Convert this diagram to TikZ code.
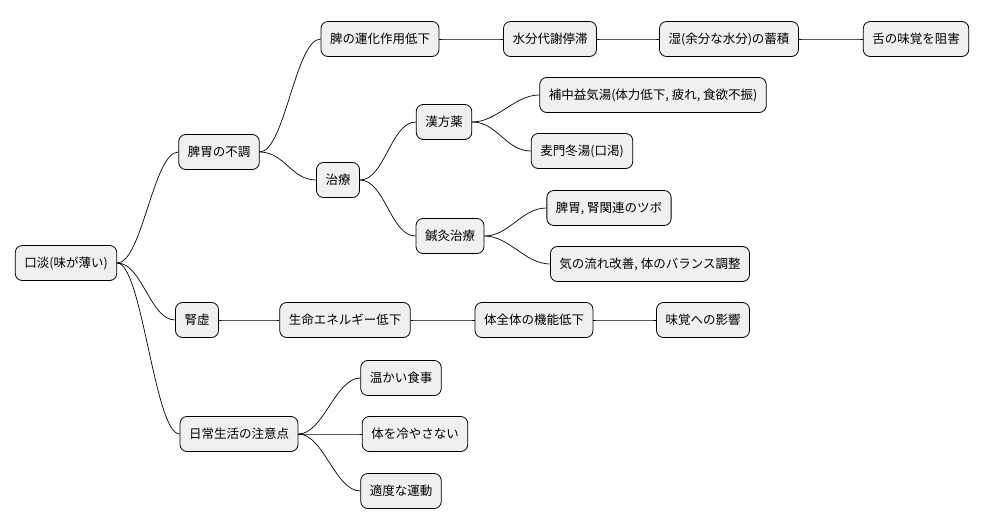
\documentclass[tikz,border=0pt]{standalone}
\usepackage{fontspec}
\setmainfont{Noto Sans CJK JP}
\begin{document}
\begin{tikzpicture}[x=1pt,y=-1pt,
  box/.style={draw=black,line width=0.8pt,fill=black!6,rounded corners=7pt,minimum height=35pt,inner xsep=9pt,font=\fontsize{12.5}{14}\selectfont},
  link/.style={draw=black,line width=0.7pt}]
\useasboundingbox (0,0) rectangle (986,527);
\node[box] (r) at (66,263) {口淡(味が薄い)};
\node[box] (a) at (219,152) {脾胃の不調};
\node[box] (b) at (197,320) {腎虚};
\node[box] (c) at (239,434) {日常生活の注意点};
\node[box] (a1) at (380,39) {脾の運化作用低下};
\node[box] (a2) at (338,180) {治療};
\node[box] (a11) at (550,39) {水分代謝停滞};
\node[box] (a12) at (729,39) {湿(余分な水分)の蓄積};
\node[box] (a13) at (916,39) {舌の味覚を阻害};
\node[box] (k) at (444,122) {漢方薬};
\node[box] (s) at (450,236) {鍼灸治療};
\node[box] (k1) at (653,95) {補中益気湯(体力低下, 疲れ, 食欲不振)};
\node[box] (k2) at (582,151) {麦門冬湯(口渇)};
\node[box] (s1) at (609,208) {脾胃, 腎関連のツボ};
\node[box] (s2) at (650,264) {気の流れ改善, 体のバランス調整};
\node[box] (b1) at (345,320) {生命エネルギー低下};
\node[box] (b2) at (534,320) {体全体の機能低下};
\node[box] (b3) at (703,320) {味覚への影響};
\node[box] (c1) at (401,378) {温かい食事};
\node[box] (c2) at (415,434) {体を冷やさない};
\node[box] (c3) at (401,491) {適度な運動};
\foreach \p/\q in {r/a,r/b,r/c,a/a1,a/a2,a1/a11,a11/a12,a12/a13,a2/k,a2/s,k/k1,k/k2,s/s1,s/s2,b/b1,b1/b2,b2/b3,c/c1,c/c2,c/c3}
  \draw[link] (\p.east) .. controls +(25,0) and +(-25,0) .. (\q.west);
\end{tikzpicture}
\end{document}
